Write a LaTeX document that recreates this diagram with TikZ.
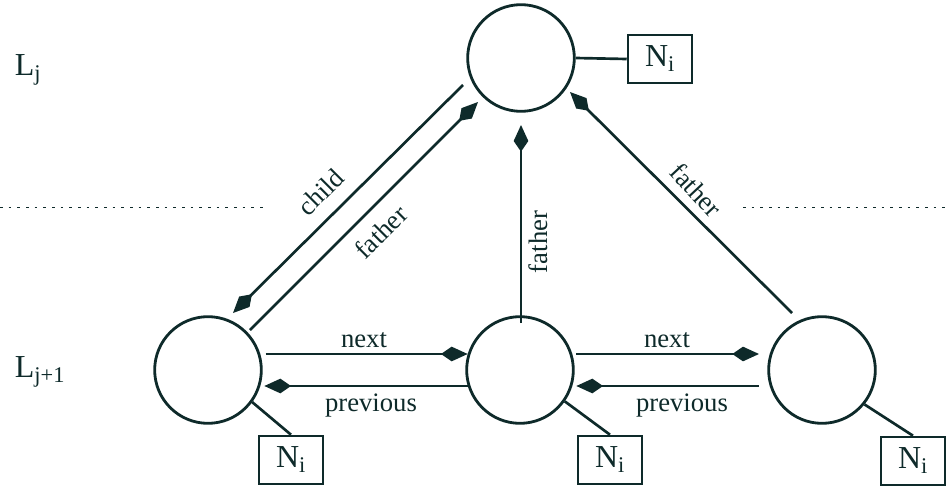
\documentclass[tikz,border=0pt]{standalone}
\usepackage{fontspec}
\setmainfont{Liberation Serif}
\usetikzlibrary{arrows.meta}
\definecolor{ink}{RGB}{14,42,42}
\tikzset{
  every node/.style={text=ink},
  vert/.style={draw=ink, circle, line width=2.1pt, minimum size=80pt, inner sep=0pt},
  nbox/.style={draw=ink, rectangle, line width=1.9pt, minimum width=48pt, minimum height=36pt, inner sep=0pt, font=\fontsize{24}{26}\selectfont},
  lbl/.style={font=\fontsize{20}{22}\selectfont, inner sep=0pt},
  lvl/.style={font=\fontsize{24}{26}\selectfont, inner sep=0pt},
  link/.style={draw=ink, line width=2pt},
  arr/.style={draw=ink, line width=2pt, -{Kite[length=20pt,width=11pt,inset=8pt]}},
  sep/.style={draw=ink, line width=0.7pt, dash pattern=on 2pt off 4.5pt}
}
\begin{document}
\begin{tikzpicture}[x=0.75pt,y=-0.75pt]
\useasboundingbox (0,0) rectangle (947,489);
% levels
\node[lvl] (lj) at (28,70) {L\textsubscript{j}};
\node[lvl] (lj1) at (40,372) {L\textsubscript{j+1}};
\coordinate (d1a) at (0,207);
\coordinate (d1b) at (265,207);
\coordinate (d2a) at (743,207);
\coordinate (d2b) at (947,207);
\draw[sep] (d1a) -- (d1b);
\draw[sep] (d2a) -- (d2b);
% vertices
\node[vert] (top) at (521,58) {};
\node[vert] (bl) at (208,370) {};
\node[vert] (bm) at (520,370) {};
\node[vert] (br) at (822,370) {};
% N_i boxes
\node[nbox] (ntop) at (660,59) {N\textsubscript{i}};
\node[nbox] (nbl) at (291,460) {N\textsubscript{i}};
\node[nbox] (nbm) at (610,460) {N\textsubscript{i}};
\node[nbox] (nbr) at (913,461) {N\textsubscript{i}};
\draw[link] (top.east) -- (ntop.west);
\draw[link] (bl.-36) -- (nbl.north);
\draw[link] (bm.-35) -- (nbm.north);
\draw[link] (br.-39) -- (nbr.north);
% next / previous
\draw[arr, shorten <=4pt] (bl.17) -- (bm.163);
\draw[arr, shorten >=3pt] (bm.197) -- (bl.-17);
\draw[arr, shorten <=3pt, shorten >=8pt] (bm.17) -- (br.163);
\draw[arr, shorten <=8pt, shorten >=3pt] (br.197) -- (bm.-17);
\node[lbl, anchor=base] (n1) at (364,347) {next};
\node[lbl, anchor=base] (p1) at (371,411) {previous};
\node[lbl, anchor=base] (n2) at (667,347) {next};
\node[lbl, anchor=base] (p2) at (682,411) {previous};
% child / father
\coordinate (cs) at (463,85);
\coordinate (ce) at (233,313);
\coordinate (fs) at (250,330);
\coordinate (fe) at (478,102);
\coordinate (vs) at (521,323);
\coordinate (ve) at (521,125);
\coordinate (rs) at (792,313);
\coordinate (re) at (570,92);
\draw[arr] (cs) -- (ce);
\draw[arr] (fs) -- (fe);
\draw[arr] (vs) -- (ve);
\draw[arr] (rs) -- (re);
\node[lbl, rotate=45] (lc) at (321,192) {child};
\node[lbl, rotate=45] (lf1) at (381,232) {father};
\node[lbl, rotate=90] (lf2) at (538,242) {father};
\node[lbl, rotate=-47] (lf3) at (696,190) {father};
\end{tikzpicture}
\end{document}
